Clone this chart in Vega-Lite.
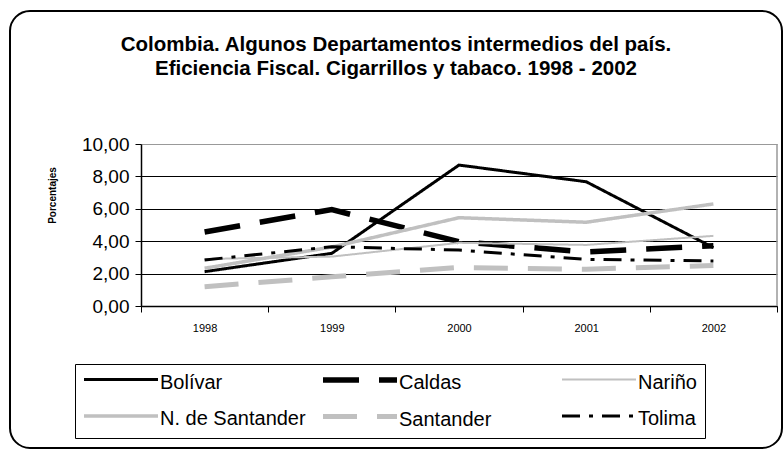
{
  "$schema": "https://vega.github.io/schema/vega-lite/v6.json",
  "width": 772,
  "height": 437,
  "autosize": "none",
  "padding": {"left": 10, "top": 11, "right": 1, "bottom": 2},
  "background": "white",
  "config": {
    "font": "Liberation Sans",
    "view": {"stroke": "black", "strokeWidth": 2, "cornerRadius": 20}
  },
  "title": {
    "text": ["Colombia. Algunos Departamentos intermedios del país.", "Eficiencia Fiscal. Cigarrillos y tabaco. 1998 - 2002"],
    "font": "Liberation Sans",
    "fontSize": 20.5,
    "fontWeight": "bold",
    "color": "black",
    "lineHeight": 24,
    "anchor": "middle",
    "frame": "group",
    "offset": 0,
    "dy": 68
  },
  "layer": [
    {
      "data": {"values": [
        {"year": "1998", "dept": "Bolívar", "value": 2.12},
        {"year": "1999", "dept": "Bolívar", "value": 3.25},
        {"year": "2000", "dept": "Bolívar", "value": 8.7},
        {"year": "2001", "dept": "Bolívar", "value": 7.67},
        {"year": "2002", "dept": "Bolívar", "value": 3.6},
        {"year": "1998", "dept": "Caldas", "value": 4.57},
        {"year": "1999", "dept": "Caldas", "value": 5.95},
        {"year": "2000", "dept": "Caldas", "value": 3.97},
        {"year": "2001", "dept": "Caldas", "value": 3.33},
        {"year": "2002", "dept": "Caldas", "value": 3.72},
        {"year": "1998", "dept": "Nariño", "value": 2.9},
        {"year": "1999", "dept": "Nariño", "value": 3.05},
        {"year": "2000", "dept": "Nariño", "value": 3.9},
        {"year": "2001", "dept": "Nariño", "value": 3.77},
        {"year": "2002", "dept": "Nariño", "value": 4.33},
        {"year": "1998", "dept": "N. de Santander", "value": 2.33},
        {"year": "1999", "dept": "N. de Santander", "value": 3.64},
        {"year": "2000", "dept": "N. de Santander", "value": 5.45},
        {"year": "2001", "dept": "N. de Santander", "value": 5.17},
        {"year": "2002", "dept": "N. de Santander", "value": 6.3},
        {"year": "1998", "dept": "Santander", "value": 1.19},
        {"year": "1999", "dept": "Santander", "value": 1.8},
        {"year": "2000", "dept": "Santander", "value": 2.38},
        {"year": "2001", "dept": "Santander", "value": 2.27},
        {"year": "2002", "dept": "Santander", "value": 2.5},
        {"year": "1998", "dept": "Tolima", "value": 2.84},
        {"year": "1999", "dept": "Tolima", "value": 3.66},
        {"year": "2000", "dept": "Tolima", "value": 3.45},
        {"year": "2001", "dept": "Tolima", "value": 2.88},
        {"year": "2002", "dept": "Tolima", "value": 2.78}
      ]},
      "mark": {"type": "line", "strokeCap": "butt", "strokeJoin": "miter"},
      "encoding": {
        "x": {
          "field": "year", "type": "ordinal", "bandPosition": 0.5,
          "scale": {"type": "band", "range": [131, 767], "paddingInner": 0, "paddingOuter": 0},
          "axis": {
            "title": null, "orient": "bottom", "offset": -142,
            "labelAngle": 0, "labelFontSize": 11, "labelColor": "black", "labelPadding": 10,
            "tickBand": "extent", "tickSize": 6, "tickColor": "black", "tickWidth": 1,
            "domainColor": "black", "domainWidth": 1.5, "grid": false
          }
        },
        "y": {
          "field": "value", "type": "quantitative",
          "scale": {"domain": [0, 10], "range": [295, 133], "nice": false, "zero": true},
          "axis": {
            "title": "Porcentajes", "titleFont": "Liberation Sans", "titleFontSize": 10, "titleFontWeight": "bold",
            "titleColor": "black", "titleX": -89, "titleY": 184, "titleAngle": -90, "titleAlign": "center", "titleBaseline": "middle",
            "offset": -131, "values": [0, 2, 4, 6, 8, 10],
            "labelExpr": "replace(format(datum.value, '.2f'), '.', ',')",
            "labelFontSize": 19, "labelColor": "black", "labelPadding": 6,
            "tickSize": 6, "tickColor": "black", "tickWidth": 1,
            "domainColor": "black", "domainWidth": 1.5,
            "grid": true, "gridWidth": 1,
            "gridColor": {"condition": {"test": "datum.value === 10", "value": "#999999"}, "value": "black"}
          }
        },
        "color": {
          "field": "dept", "type": "nominal",
          "scale": {
            "domain": ["Bolívar", "Caldas", "Nariño", "N. de Santander", "Santander", "Tolima"],
            "range": ["black", "black", "#c0c0c0", "#c0c0c0", "#c0c0c0", "black"]
          },
          "legend": {
            "title": null, "orient": "none", "legendX": 65, "legendY": 353, "direction": "horizontal",
            "columns": 3, "gridAlign": "all", "columnPadding": 6, "rowPadding": 13,
            "symbolType": "M-4.625,-0.375H4.625", "symbolSize": 256, "symbolOffset": 27,
            "labelFontSize": 20, "labelColor": "black", "labelOffset": 28, "labelBaseline": "middle", "labelLimit": 300,
            "strokeColor": "black", "padding": 8, "fillColor": "white"
          }
        },
        "strokeDash": {
          "field": "dept", "type": "nominal",
          "scale": {
            "domain": ["Bolívar", "Caldas", "Nariño", "N. de Santander", "Santander", "Tolima"],
            "range": [[1, 0], [36, 20], [1, 0], [1, 0], [34, 20], [18, 9, 4, 9]]
          },
          "legend": {"title": null}
        },
        "strokeWidth": {
          "field": "dept", "type": "nominal",
          "scale": {
            "type": "ordinal",
            "domain": ["Bolívar", "Caldas", "Nariño", "N. de Santander", "Santander", "Tolima"],
            "range": [3, 5.5, 2, 3.5, 5, 3]
          },
          "legend": {"title": null}
        }
      }
    },
    {
      "data": {"values": [{"edge": "right"}]},
      "mark": {"type": "rule", "color": "#999999", "strokeWidth": 1.5},
      "encoding": {
        "x": {"datum": "2002", "type": "ordinal", "bandPosition": 1},
        "y": {"datum": 0, "type": "quantitative"},
        "y2": {"datum": 10}
      }
    }
  ]
}
